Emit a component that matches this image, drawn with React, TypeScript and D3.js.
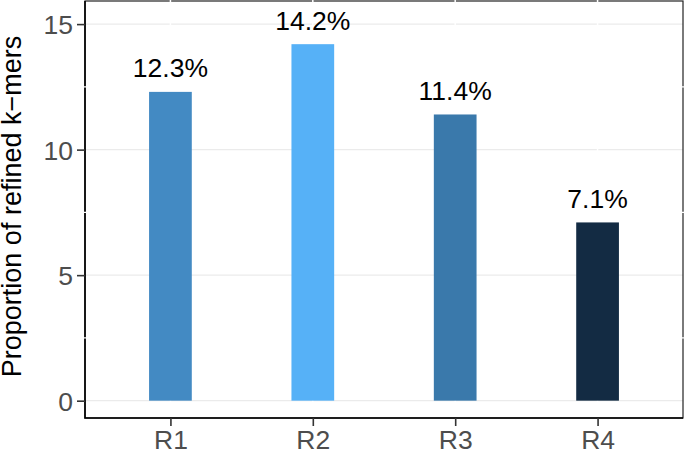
import React, { useEffect, useRef } from "react";
import * as d3 from "d3";

// proportion of refined k-mers per read set
const categories = ["R1", "R2", "R3", "R4"];
const values = [12.3, 14.2, 11.4, 7.1];
const labels = ["12.3%", "14.2%", "11.4%", "7.1%"];
const yTicks = [0, 5, 10, 15];
const yMinor = [2.5, 7.5, 12.5];

const W = 685;
const H = 454;
const panel = { left: 85, right: 683, top: 1, bottom: 418 };
const font = "'Liberation Sans', Arial, Helvetica, sans-serif";

export default function App() {
  const svgRef = useRef<SVGSVGElement>(null);

  useEffect(() => {
    const svg = d3.select(svgRef.current);
    svg.selectAll("*").remove();

    const x = d3
      .scalePoint<string>()
      .domain(categories)
      .range([panel.left, panel.right])
      .padding(0.6);
    const y = d3
      .scaleLinear()
      .domain([-0.69, 15.92])
      .range([panel.bottom, panel.top]);
    const colour = d3
      .scaleLinear<string>()
      .domain([d3.min(values)!, d3.max(values)!])
      .range(["#132B43", "#56B1F7"])
      .interpolate(d3.interpolateLab);
    const barW = x.step() * 0.3;

    // major grid
    svg
      .append("g")
      .selectAll("line")
      .data(yTicks)
      .join("line")
      .attr("x1", panel.left)
      .attr("x2", panel.right)
      .attr("y1", (d) => y(d))
      .attr("y2", (d) => y(d))
      .attr("stroke", "#EBEBEB")
      .attr("stroke-width", 1.3);

    // panel border
    svg
      .append("rect")
      .attr("x", panel.left)
      .attr("y", panel.top)
      .attr("width", panel.right - panel.left)
      .attr("height", panel.bottom - panel.top)
      .attr("fill", "none")
      .attr("stroke", "#222")
      .attr("stroke-width", 1.2);

    // axis lines on left / bottom
    svg
      .append("path")
      .attr("d", `M${panel.left},${panel.top}V${panel.bottom}H${panel.right}`)
      .attr("fill", "none")
      .attr("stroke", "black")
      .attr("stroke-width", 1.6);

    // white minor / x grid cutting through border
    svg
      .append("g")
      .selectAll("line")
      .data(yMinor)
      .join("line")
      .attr("x1", panel.left - 1.5)
      .attr("x2", panel.right + 1.5)
      .attr("y1", (d) => y(d))
      .attr("y2", (d) => y(d))
      .attr("stroke", "white")
      .attr("stroke-width", 1.2);
    svg
      .append("g")
      .selectAll("line")
      .data(categories)
      .join("line")
      .attr("x1", (d) => x(d)!)
      .attr("x2", (d) => x(d)!)
      .attr("y1", panel.top - 1.5)
      .attr("y2", panel.bottom - 2)
      .attr("stroke", "white")
      .attr("stroke-width", 1.5);

    // bars
    svg
      .append("g")
      .selectAll("rect")
      .data(values)
      .join("rect")
      .attr("x", (d, i) => x(categories[i])! - barW / 2)
      .attr("y", (d) => y(d))
      .attr("width", barW)
      .attr("height", (d) => y(0) - y(d))
      .attr("fill", (d) => colour(d));

    // value labels
    svg
      .append("g")
      .selectAll("text")
      .data(values)
      .join("text")
      .attr("x", (d, i) => x(categories[i])!)
      .attr("y", (d) => y(d) - 14.5)
      .attr("text-anchor", "middle")
      .style("font-family", font)
      .style("font-size", "26.5px")
      .attr("fill", "black")
      .text((d, i) => labels[i]);

    // y axis
    const yAxis = svg
      .append("g")
      .attr("transform", `translate(${panel.left},0)`)
      .call(d3.axisLeft(y).tickValues(yTicks).tickSize(8).tickPadding(4));
    yAxis.select(".domain").remove();
    yAxis.selectAll(".tick line").attr("stroke", "#333").attr("stroke-width", 1.6);
    yAxis
      .selectAll(".tick text")
      .attr("fill", "#4D4D4D")
      .attr("dy", "0.36em")
      .style("font-family", font)
      .style("font-size", "26.5px");

    // x axis
    const xAxis = svg
      .append("g")
      .attr("transform", `translate(0,${panel.bottom})`)
      .call(d3.axisBottom(x).tickSize(8).tickPadding(4));
    xAxis.select(".domain").remove();
    xAxis.selectAll(".tick line").attr("stroke", "#333").attr("stroke-width", 1.6);
    xAxis
      .selectAll(".tick text")
      .attr("fill", "#4D4D4D")
      .attr("dy", "0.72em")
      .style("font-family", font)
      .style("font-size", "26.5px");

    // y title
    svg
      .append("text")
      .attr("transform", `translate(21,${(33 + 380) / 2}) rotate(-90)`)
      .attr("text-anchor", "middle")
      .style("font-family", font)
      .style("font-size", "27px")
      .attr("fill", "black")
      .text("Proportion of refined k\u2212mers");
  }, []);

  return (
    <svg
      ref={svgRef}
      width={W}
      height={H}
      style={{ position: "absolute", left: 0, top: 0, background: "white" }}
    />
  );
}
